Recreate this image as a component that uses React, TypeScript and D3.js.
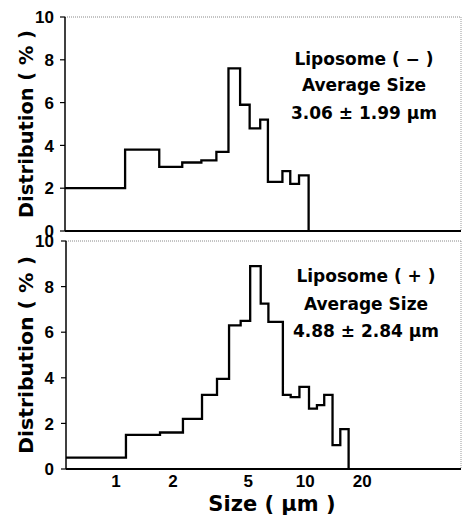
import React from "react";
import * as d3 from "d3";

// Bin edges (µm), shared by both panels
const binEdges = [0.545, 1.13, 1.71, 2.26, 2.85, 3.42, 3.96, 4.56, 5.12, 5.82, 6.39, 7.62, 8.38, 9.32, 10.47, 11.53, 12.6, 13.94, 15.32, 16.95];
// Distribution (%) per bin
const liposomeMinus = [2.0, 3.8, 3.0, 3.2, 3.3, 3.7, 7.6, 5.9, 4.8, 5.2, 2.3, 2.8, 2.2, 2.6];
const liposomePlus = [0.5, 1.5, 1.6, 2.2, 3.25, 3.95, 6.3, 6.5, 8.9, 7.25, 6.45, 3.25, 3.15, 3.6, 2.65, 2.8, 3.25, 1.05, 1.75];
const xDomain = [0.545, 66.5];
const xTicks = [1, 2, 5, 10, 20];
const yTicks = [0, 2, 4, 6, 8, 10];
const labelsMinus = ["Liposome ( − )", "Average Size", "3.06 ± 1.99 µm"];
const labelsPlus = ["Liposome ( + )", "Average Size", "4.88 ± 2.84 µm"];

const W = 462;
const H = 522;
const RIGHT = 461;

type PanelProps = {
  values: number[];
  top: number;
  bottom: number;
  left: number;
  labels: string[];
  labelX: number;
  labelY: number[];
  titleLen: number;
  showX: boolean;
};

function Panel({ values, top, bottom, left, labels, labelX, labelY, titleLen, showX }: PanelProps) {
  const x = d3.scaleLog().domain(xDomain).range([left, RIGHT]);
  const y = d3.scaleLinear().domain([0, 10]).range([bottom, top]);
  const pts: [number, number][] = values.map((v, i) => [binEdges[i], v]);
  pts.push([binEdges[values.length], 0]);
  const line = d3
    .line<[number, number]>()
    .x((d) => x(d[0]))
    .y((d) => y(d[1]))
    .curve(d3.curveStepAfter);
  const path = line(pts) || "";
  const cy = (top + bottom) / 2;
  return (
    <g>
      {/* dotted frame top & right */}
      <line x1={left} x2={RIGHT} y1={top} y2={top} stroke="#888" strokeWidth={1} strokeDasharray="1,1" />
      <line x1={RIGHT} x2={RIGHT} y1={top} y2={bottom} stroke="#999" strokeWidth={1} strokeDasharray="1,1" />
      {/* data */}
      <path d={path} fill="none" stroke="#000" strokeWidth={2.3} strokeLinejoin="miter" />
      {/* axes */}
      <line x1={left} x2={left} y1={top} y2={bottom} stroke="#000" strokeWidth={1.5} />
      <line x1={left} x2={RIGHT} y1={bottom} y2={bottom} stroke="#000" strokeWidth={2} />
      {yTicks.map((t) => (
        <g key={t}>
          <line x1={left - 5} x2={left} y1={y(t)} y2={y(t)} stroke="#000" strokeWidth={1.2} />
          <text
            x={54}
            y={y(t)}
            dy="0.36em"
            textAnchor="end"
            fontFamily="Liberation Sans, Arial, sans-serif"
            fontWeight="bold"
            fontSize={17}
          >
            {t}
          </text>
        </g>
      ))}
      <text
        transform={`translate(33,${cy}) rotate(-90)`}
        textAnchor="middle"
        fontFamily="DejaVu Sans, sans-serif"
        fontWeight="bold"
        fontSize={20}
        textLength={titleLen}
        lengthAdjust="spacingAndGlyphs"
      >
        Distribution ( % )
      </text>
      {labels.map((s, i) => (
        <text
          key={i}
          x={labelX}
          y={labelY[i]}
          textAnchor="middle"
          fontFamily="DejaVu Sans, sans-serif"
          fontWeight="bold"
          fontSize={17}
        >
          {s}
        </text>
      ))}
      {showX &&
        xTicks.map((t) => (
          <text
            key={t}
            x={x(t)}
            y={487}
            textAnchor="middle"
            fontFamily="Liberation Sans, Arial, sans-serif"
            fontWeight="bold"
            fontSize={17}
          >
            {t}
          </text>
        ))}
    </g>
  );
}

export default function App() {
  return (
    <svg
      width={W}
      height={H}
      style={{ position: "absolute", left: 0, top: 0, background: "#fff" }}
    >
      <rect width={W} height={H} fill="#fff" />
      <Panel
        values={liposomeMinus}
        top={17}
        bottom={231}
        left={65}
        labels={labelsMinus}
        labelX={364}
        labelY={[65, 91, 119]}
        titleLen={188}
        showX={false}
      />
      <Panel
        values={liposomePlus}
        top={241}
        bottom={469}
        left={66}
        labels={labelsPlus}
        labelX={366}
        labelY={[282, 310, 337]}
        titleLen={198}
        showX={true}
      />
      <text
        x={272}
        y={511}
        textAnchor="middle"
        fontFamily="DejaVu Sans, sans-serif"
        fontWeight="bold"
        fontSize={21}
      >
        Size ( µm )
      </text>
    </svg>
  );
}
